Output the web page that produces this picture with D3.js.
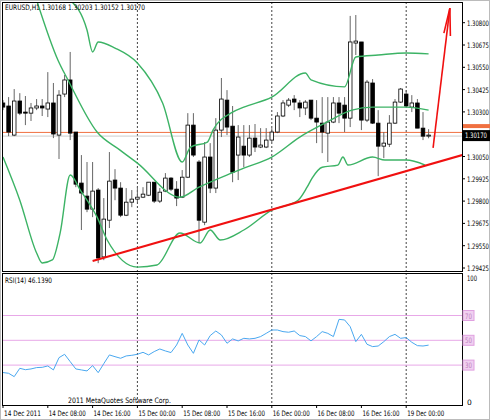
<!DOCTYPE html>
<html>
<head>
<meta charset="utf-8">
<script src="https://cdn.jsdelivr.net/npm/d3@7"></script>
<style>
body { margin: 0; background: #fff; }
text { font-family: 'DejaVu Sans', sans-serif; font-size: 7.5px; fill: #000; }
</style>
</head>
<body>
<script>
// OHLC per hourly bar, 14 Dec 2011 00:00 .. 19 Dec 2011 04:00
const opens = [1.30350,1.30333,1.30170,1.30361,1.30299,1.30293,1.30322,1.30333,1.30316,1.30350,1.30170,1.30400,1.30479,1.30187,1.29901,1.29828,1.29755,1.29862,1.29487,1.29693,1.29918,1.29873,1.29721,1.29794,1.29811,1.29822,1.29833,1.29906,1.29800,1.29856,1.29929,1.29867,1.29822,1.29934,1.30226,1.30019,1.29682,1.30047,1.29873,1.30198,1.30366,1.30220,1.30058,1.30108,1.30058,1.30153,1.30103,1.30103,1.30142,1.30187,1.30277,1.30338,1.30372,1.30350,1.30322,1.30366,1.30265,1.30237,1.30181,1.30243,1.30350,1.30338,1.30265,1.30686,1.30692,1.30254,1.30462,1.30237,1.30108,1.30119,1.30237,1.30355,1.30400,1.30327,1.30350,1.30209,1.30168]
const highs = [1.30366,1.30383,1.30428,1.30405,1.30389,1.30350,1.30372,1.30372,1.30523,1.30462,1.30422,1.30507,1.30636,1.30187,1.30058,1.30019,1.30019,1.29873,1.29817,1.30075,1.29979,1.29906,1.29873,1.29862,1.29878,1.29878,1.29906,1.29906,1.29873,1.29957,1.29934,1.29912,1.29974,1.30293,1.30293,1.30030,1.30131,1.30125,1.30265,1.30490,1.30422,1.30333,1.30226,1.30226,1.30226,1.30232,1.30209,1.30209,1.30209,1.30299,1.30366,1.30378,1.30394,1.30366,1.30366,1.30366,1.30366,1.30383,1.30383,1.30383,1.30383,1.30383,1.30838,1.30843,1.30692,1.30479,1.30484,1.30310,1.30187,1.30282,1.30372,1.30434,1.30422,1.30394,1.30372,1.30299,1.30203]
const lows = [1.30310,1.30164,1.30164,1.30282,1.30226,1.30249,1.30310,1.30277,1.30271,1.30153,1.30036,1.30383,1.30142,1.29878,1.29638,1.29738,1.29710,1.29452,1.29469,1.29649,1.29805,1.29710,1.29716,1.29766,1.29794,1.29817,1.29828,1.29789,1.29789,1.29850,1.29856,1.29772,1.29817,1.29929,1.30047,1.29565,1.29665,1.29845,1.29845,1.30159,1.30170,1.29906,1.29918,1.29990,1.30047,1.30075,1.30097,1.30097,1.30131,1.30181,1.30271,1.30327,1.30310,1.30271,1.30282,1.30254,1.30125,1.30069,1.30019,1.30237,1.30237,1.30187,1.30215,1.30619,1.30198,1.30243,1.30232,1.29940,1.30041,1.30103,1.30232,1.30350,1.30327,1.30299,1.30209,1.30142,1.30152]
const closes = [1.30327,1.30187,1.30361,1.30293,1.30293,1.30322,1.30333,1.30322,1.30350,1.30176,1.30394,1.30479,1.30181,1.29895,1.29845,1.29755,1.29856,1.29481,1.29699,1.29912,1.29873,1.29721,1.29794,1.29811,1.29822,1.29839,1.29906,1.29800,1.29850,1.29929,1.29867,1.29817,1.29934,1.30226,1.30058,1.29693,1.30047,1.29873,1.30198,1.30372,1.30215,1.29962,1.30159,1.30058,1.30153,1.30103,1.30114,1.30142,1.30187,1.30277,1.30350,1.30366,1.30355,1.30322,1.30355,1.30265,1.30243,1.30187,1.30243,1.30350,1.30293,1.30265,1.30692,1.30697,1.30254,1.30467,1.30237,1.30108,1.30125,1.30237,1.30355,1.30428,1.30333,1.30350,1.30209,1.30164,1.30170]

// Bollinger bands: [bar, price]
const upperBand = [[12,1.30927],[15,1.30759],[16,1.30636],[17,1.30692],[20,1.30658],[24,1.30574],[28.5,1.30350],[32,1.30019],[33.5,1.30103],[36.5,1.30131],[37.5,1.30198],[41,1.30299],[43,1.30327],[48,1.30383],[54,1.30518],[55,1.30479],[61,1.30440],[63,1.30608],[67,1.30619],[72,1.30630],[76,1.30625]]
const middleBand = [[6,1.30927],[9.8,1.30591],[11.6,1.30479],[16.8,1.30187],[20.9,1.30086],[24,1.30013],[31.6,1.29822],[35,1.29878],[40.8,1.29957],[43,1.29985],[48,1.30047],[53,1.30159],[57.5,1.30237],[62.3,1.30310],[66,1.30327],[72,1.30327],[76,1.30310]]
const lowerBand = [[0,1.30047],[3,1.29805],[6,1.29509],[7,1.29453],[8.8,1.29470],[10.2,1.29621],[12,1.29946],[13.8,1.29862],[16.8,1.29710],[18.6,1.29582],[24,1.29430],[27.5,1.29442],[31.6,1.29621],[35.2,1.29565],[37,1.29638],[38.8,1.29582],[43,1.29638],[48,1.29749],[52.7,1.29805],[54.3,1.29878],[55.2,1.29929],[57,1.29990],[59.8,1.30002],[60.7,1.30047],[61.6,1.30002],[66,1.30047],[68.2,1.30030],[72,1.30030],[75.4,1.30002]]

const trendLine = [[16,1.29464],[82,1.30058]]
const arrowLine = [[76.8,1.30098],[79.8,1.30882]]

const rsi = [24.0,23.4,20.7,27.4,26.3,26.9,28.0,28.2,29.3,26.1,36.0,38.7,32.8,26.9,26.1,25.3,29.6,23.9,31.2,38.2,36.8,35.5,37.4,37.9,38.7,40.3,38.2,40.9,43.0,41.4,40.1,46.2,55.6,46.2,39.5,50.3,46.2,53.8,57.5,54.3,47.6,51.1,49.5,51.6,51.1,51.6,53.0,55.6,58.3,58.3,57.0,56.5,57.5,53.8,53.0,49.5,53.0,57.0,55.6,53.0,66.9,66.4,61.0,48.9,54.8,46.8,44.9,45.4,48.9,53.0,54.8,51.6,52.2,48.4,45.7,45.4,46.1]
const rsiLevels = [70, 50, 30]

const priceTicks = [1.30800,1.30675,1.30550,1.30425,1.30300,1.30050,1.29925,1.29800,1.29675,1.29550,1.29425]
const timeLabels = ['14 Dec 2011','14 Dec 08:00','14 Dec 16:00','15 Dec 00:00','15 Dec 08:00','15 Dec 16:00','16 Dec 00:00','16 Dec 08:00','16 Dec 16:00','19 Dec 00:00']
const daySeparators = [24, 48, 72]

const lastPrice = 1.30170
const bidLine = 1.30185

const svg = d3.select('body').append('svg').attr('width', 490).attr('height', 420)

const left = 2, right = 462
const main = { top: 2, bottom: 271 }
const sub = { top: 273, bottom: 405 }

const x = d3.scaleLinear().domain([0, 82]).range([3, 462.2])
const y = d3.scaleLinear().domain([1.29425, 1.30800]).range([268, 22.7])
const yr = d3.scaleLinear().domain([0, 100]).range([402.3, 278.3])

// squeeze text into the width the terminal font takes
function label(g, tx, ty, str, len) {
	return g.append('text').attr('x', tx).attr('y', ty).attr('textLength', len)
		.attr('lengthAdjust', 'spacingAndGlyphs').text(str)
}

svg.append('clipPath').attr('id', 'clipMain')
	.append('rect').attr('x', left).attr('y', main.top).attr('width', right - left).attr('height', main.bottom - main.top)
svg.append('clipPath').attr('id', 'clipSub')
	.append('rect').attr('x', left).attr('y', sub.top).attr('width', right - left).attr('height', sub.bottom - sub.top)

const gm = svg.append('g').attr('clip-path', 'url(#clipMain)')
const gs = svg.append('g').attr('clip-path', 'url(#clipSub)')

// day separators
daySeparators.forEach(b => {
	[[gm, main], [gs, sub]].forEach(([g, p]) => {
		g.append('line').attr('x1', x(b)).attr('x2', x(b)).attr('y1', p.top).attr('y2', p.bottom)
			.attr('stroke', '#444').attr('stroke-dasharray', '2,2').attr('stroke-width', 1)
	})
})

// current price lines
gm.append('line').attr('x1', left).attr('x2', right).attr('y1', y(lastPrice) + 1).attr('y2', y(lastPrice) + 1)
	.attr('stroke', '#ccc')
gm.append('line').attr('x1', left).attr('x2', right).attr('y1', y(bidLine)).attr('y2', y(bidLine))
	.attr('stroke', '#f07040')

// candles
const bars = d3.range(opens.length)
gm.selectAll('line.wick').data(bars).join('line').attr('class', 'wick')
	.attr('x1', i => x(i)).attr('x2', i => x(i))
	.attr('y1', i => y(highs[i])).attr('y2', i => y(lows[i]))
	.attr('stroke', '#666').attr('stroke-width', 1)
gm.selectAll('rect.body').data(bars).join('rect').attr('class', 'body')
	.attr('x', i => x(i) - 1.8).attr('width', 3.6)
	.attr('y', i => y(Math.max(opens[i], closes[i])))
	.attr('height', i => Math.max(1, Math.abs(y(opens[i]) - y(closes[i]))))
	.attr('fill', i => closes[i] >= opens[i] ? '#fff' : '#000')
	.attr('stroke', '#000').attr('stroke-width', 0.8)

// bollinger bands
const bandLine = d3.line().x(d => x(d[0])).y(d => y(d[1])).curve(d3.curveMonotoneX)
;[upperBand, middleBand, lowerBand].forEach(band => {
	gm.append('path').attr('d', bandLine(band)).attr('fill', 'none')
		.attr('stroke', '#3cb365').attr('stroke-width', 1.4)
})

// hand-drawn trend line and arrow
const straight = d3.line().x(d => x(d[0])).y(d => y(d[1]))
gm.append('path').attr('d', straight(trendLine)).attr('stroke', '#f01010').attr('stroke-width', 2).attr('fill', 'none')
gm.append('path').attr('d', straight(arrowLine)).attr('stroke', '#f01010').attr('stroke-width', 1.6).attr('fill', 'none')
const tip = [x(arrowLine[1][0]), y(arrowLine[1][1])]
gm.append('path').attr('d', `M${tip[0] - 6},${tip[1] + 25} L${tip[0]},${tip[1]} L${tip[0] + 0.5},${tip[1] + 28}`)
	.attr('stroke', '#f01010').attr('stroke-width', 1.6).attr('fill', 'none')

// RSI
rsiLevels.forEach(l => {
	gs.append('line').attr('x1', left).attr('x2', right).attr('y1', yr(l)).attr('y2', yr(l))
		.attr('stroke', '#e8a8e8').attr('stroke-width', 1)
})
const rsiLine = d3.line().x((d, i) => x(i)).y(d => yr(d))
gs.append('path').attr('d', rsiLine(rsi)).attr('fill', 'none').attr('stroke', '#4aa8f0').attr('stroke-width', 1)

// panel frames
;[main, sub].forEach(p => {
	svg.append('rect').attr('x', left + 0.5).attr('y', p.top + 0.5).attr('width', right - left).attr('height', p.bottom - p.top)
		.attr('fill', 'none').attr('stroke', '#000')
})
svg.append('rect').attr('x', 0.5).attr('y', 0.5).attr('width', 489).attr('height', 419).attr('fill', 'none').attr('stroke', '#bbb')

// price axis
const priceAxis = svg.append('g')
priceTicks.forEach(p => {
	priceAxis.append('line').attr('x1', right).attr('x2', right + 3).attr('y1', y(p)).attr('y2', y(p)).attr('stroke', '#000')
	label(priceAxis, right + 5, y(p) + 3, p.toFixed(5), 22)
})
priceAxis.append('rect').attr('x', right + 1).attr('y', y(lastPrice) - 11).attr('width', 27).attr('height', 4).attr('fill', '#f07040')
priceAxis.append('rect').attr('x', right + 1).attr('y', y(lastPrice) - 5).attr('width', 27).attr('height', 11).attr('fill', '#000')
label(priceAxis, right + 3, y(lastPrice) + 3, lastPrice.toFixed(5), 22).style('fill', '#fff')

// RSI axis
label(svg, right + 5, yr(100) + 3, '100', 10)
svg.append('text').attr('x', right + 5).attr('y', yr(0) + 3).text('0')
rsiLevels.forEach(l => {
	svg.append('rect').attr('x', right + 1).attr('y', yr(l) - 5).attr('width', 11).attr('height', 10).attr('fill', '#f0d0f0').attr('stroke', '#e0a0e0')
	label(svg, right + 3, yr(l) + 3, l, 7).style('fill', '#c080c0')
})

// time axis
timeLabels.forEach((t, k) => {
	const b = k * 8
	svg.append('line').attr('x1', x(b)).attr('x2', x(b)).attr('y1', sub.bottom).attr('y2', sub.bottom + 3).attr('stroke', '#000')
	label(svg, x(b) + 1, 416, t, 37)
})

// titles
label(svg, 5, 10, 'EURUSD,H1  1.30168 1.30203 1.30152 1.30170', 140)
label(svg, 5, 283, 'RSI(14) 46.1390', 47)
label(svg, 68, 403, '2011 MetaQuotes Software Corp.', 103)
</script>
</body>
</html>
